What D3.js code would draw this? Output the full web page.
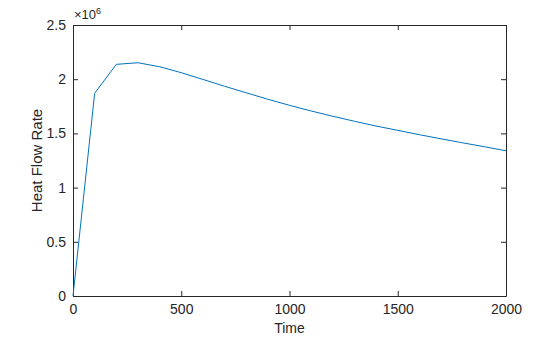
<!DOCTYPE html>
<html>
<head>
<meta charset="utf-8">
<script src="https://cdn.jsdelivr.net/npm/d3@7"></script>
<style>
  body { margin: 0; background: #fff; }
  svg { display: block; font-family: "Liberation Sans", Arial, sans-serif; }
</style>
</head>
<body>
<svg width="560" height="337"></svg>
<script>
// time samples and heat flow rate (x 10^6)
const times = [0, 100, 200, 300, 400, 500, 600, 700, 800, 900, 1000,
  1100, 1200, 1300, 1400, 1500, 1600, 1700, 1800, 1900, 2000];
const heatFlow = [0, 1.87, 2.137, 2.152, 2.115, 2.06, 1.998, 1.935, 1.875, 1.815, 1.759,
  1.707, 1.658, 1.612, 1.568, 1.528, 1.488, 1.45, 1.413, 1.377, 1.34];
const xTicks = [0, 500, 1000, 1500, 2000];
const yTicks = [0, 0.5, 1, 1.5, 2, 2.5];

const svg = d3.select("svg");
const margin = { left: 73, right: 54, top: 25, bottom: 41 };
const width = 560, height = 337;
const axisColor = "#262626";

const x = d3.scaleLinear().domain([0, 2000]).range([margin.left, width - margin.right]);
const y = d3.scaleLinear().domain([0, 2.5]).range([height - margin.bottom, margin.top]);

const fmt = d => String(d);

// bottom + top
svg.append("g")
  .attr("transform", `translate(0,${y(0)})`)
  .call(d3.axisBottom(x).tickValues(xTicks).tickFormat(fmt).tickSizeInner(-5).tickSizeOuter(0).tickPadding(8))
  .call(g => g.selectAll("text").attr("font-size", 14).attr("fill", axisColor));
svg.append("g")
  .attr("transform", `translate(0,${y(2.5)})`)
  .call(d3.axisTop(x).tickValues(xTicks).tickFormat("").tickSizeInner(-5).tickSizeOuter(0));

// left + right
svg.append("g")
  .attr("transform", `translate(${x(0)},0)`)
  .call(d3.axisLeft(y).tickValues(yTicks).tickFormat(fmt).tickSizeInner(-5).tickSizeOuter(0).tickPadding(7))
  .call(g => g.selectAll("text").attr("font-size", 14).attr("fill", axisColor));
svg.append("g")
  .attr("transform", `translate(${x(2000)},0)`)
  .call(d3.axisRight(y).tickValues(yTicks).tickFormat("").tickSizeInner(-5).tickSizeOuter(0));

svg.selectAll(".domain, .tick line").attr("stroke", axisColor);

// the line
const line = d3.line().x((d, i) => x(times[i])).y(d => y(d));
svg.append("path")
  .datum(heatFlow)
  .attr("fill", "none")
  .attr("stroke", "#0072BD")
  .attr("stroke-width", 1)
  .attr("d", line);

// exponent label
const ex = svg.append("text")
  .attr("x", x(0) + 1)
  .attr("y", 19)
  .attr("font-size", 13)
  .attr("fill", axisColor);
ex.append("tspan").text("×10");
ex.append("tspan").attr("font-size", 9).attr("dy", -5).text("6");

// axis labels
svg.append("text")
  .attr("x", (x(0) + x(2000)) / 2)
  .attr("y", 333)
  .attr("text-anchor", "middle")
  .attr("font-size", 14)
  .attr("fill", axisColor)
  .text("Time");

svg.append("text")
  .attr("transform", `translate(42,${(y(0) + y(2.5)) / 2}) rotate(-90)`)
  .attr("text-anchor", "middle")
  .attr("font-size", 15)
  .attr("fill", axisColor)
  .text("Heat Flow Rate");
</script>
</body>
</html>
